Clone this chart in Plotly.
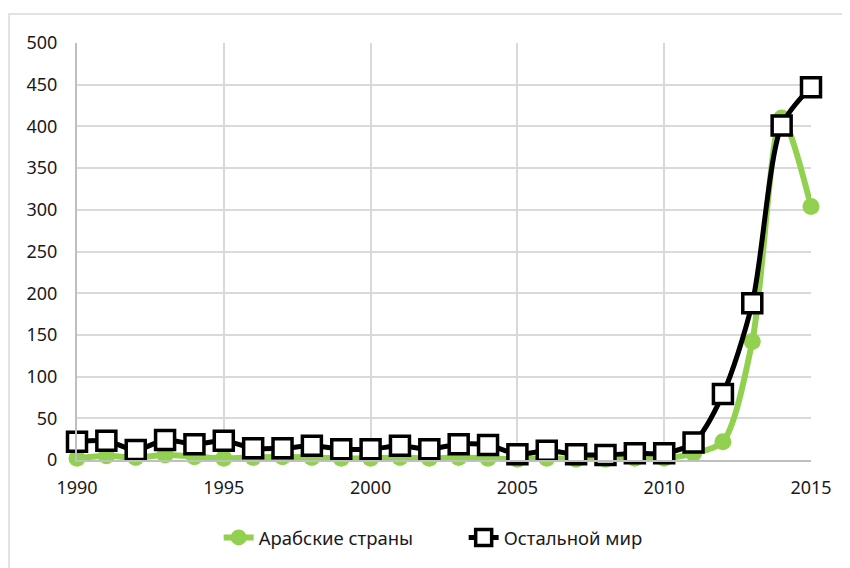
import plotly.graph_objects as go

years = list(range(1990, 2016))
arab = [2, 5, 3, 6, 4, 2, 3, 4, 3, 2, 2, 3, 2, 3, 2, 1, 2, 1, 1, 2, 2, 8, 22, 142, 410, 304]
rest = [22, 23, 12, 24, 19, 23, 14, 14, 17, 13, 13, 17, 13, 19, 18, 7, 11, 7, 6, 8, 8, 21, 79, 188, 401, 447]
series_names = ["Арабские страны", "Остальной мир"]

fig = go.Figure()
fig.add_trace(go.Scatter(
    x=years, y=arab, name=series_names[0], mode="lines+markers",
    line=dict(color="#92d050", width=6, shape="spline", smoothing=0.8),
    marker=dict(symbol="circle", size=17, color="#92d050"),
    cliponaxis=False,
))
fig.add_trace(go.Scatter(
    x=years, y=rest, name=series_names[1], mode="lines+markers",
    line=dict(color="#000000", width=5, shape="spline", smoothing=0.8),
    marker=dict(symbol="square", size=19, color="#ffffff", line=dict(color="#000000", width=3.5)),
    cliponaxis=False,
))

font_family = "Noto Sans"
fig.update_layout(
    width=842, height=560,
    margin=dict(l=69, r=39, t=35, b=107),
    paper_bgcolor="#ffffff", plot_bgcolor="#ffffff",
    font=dict(family=font_family, size=18, color="#1a1a1a"),
    showlegend=True,
    legend=dict(orientation="h", x=0.193, xanchor="left", y=-0.184, yanchor="middle",
                font=dict(size=18.5, color="#1a1a1a"), entrywidth=200, entrywidthmode="pixels",
                tracegroupgap=0),
    xaxis=dict(range=[1990, 2015], dtick=5, tick0=1990, showgrid=True, gridcolor="#d9d9d9",
               gridwidth=1.5, showline=True, linecolor="#bfbfbf", linewidth=2, zeroline=False,
               ticks="", ticklabelstandoff=10, fixedrange=True),
    yaxis=dict(range=[0, 500], dtick=50, showgrid=True, gridcolor="#d9d9d9", gridwidth=1.5,
               showline=True, linecolor="#bfbfbf", linewidth=2, zeroline=False,
               ticks="", ticklabelstandoff=14, fixedrange=True),
    shapes=[dict(type="rect", xref="paper", yref="paper",
                 x0=-0.0926, x1=1.07, y0=-0.29, y1=1.0694,
                 line=dict(color="#d9d9d9", width=1.5), fillcolor="rgba(0,0,0,0)", layer="below")],
)

fig.write_html("out.html")
